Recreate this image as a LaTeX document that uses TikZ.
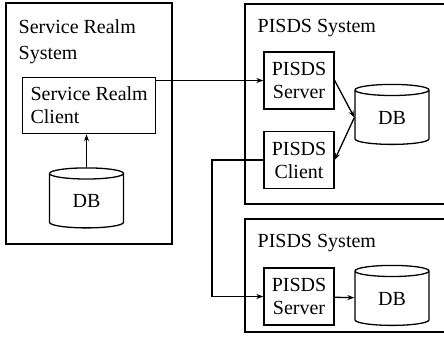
\documentclass[tikz,border=0pt]{standalone}
\usepackage{fontspec}
\setmainfont{Liberation Serif}
\usetikzlibrary{positioning,shapes.geometric,arrows.meta}

\begin{document}
\begin{tikzpicture}[x=1pt,y=-1pt,line width=1.3pt,
  font=\fontsize{20}{23}\selectfont,
  box/.style={draw,align=center,minimum width=70pt,minimum height=57pt,inner sep=2pt},
  dbase/.style={draw,cylinder,shape border rotate=90,aspect=0.4,minimum width=74pt,minimum height=60pt,inner sep=0pt},
  frame/.style={draw,line width=1.2pt},
  arr/.style={-{Stealth[length=7pt,width=5pt]}}]
 \useasboundingbox (0,0) rectangle (444,345);
 \clip (0,0) rectangle (444,345);

 %Frames
 \draw[frame] (6,3) rectangle (172,244);
 \draw[frame] (245,4) rectangle (460,204);
 \draw[frame] (245,219) rectangle (460,332);

 %Names
 \node (srsystem) [anchor=north west,align=left,inner sep=0pt] at (18,19) {Service Realm\\[3pt]System};
 \node (pisdsA) [anchor=north west,inner sep=0pt] at (257,19) {PISDS System};
 \node (pisdsB) [anchor=north west,inner sep=0pt] at (257,234) {PISDS System};

 %Boxes
 \node (srclient) [box,align=left,minimum width=133pt,minimum height=56pt,anchor=north west] at (22,77) {Service Realm\\Client};
 \node (srdb) [dbase] at (86.5,201) {DB};

 \node (server) [box] at (299,80.5) {PISDS\\Server};
 \node (client) [box] at (299,160) {PISDS\\Client};
 \node (serverdb) [dbase] at (392,117.5) {DB};

 \node (server2) [box] at (299,296.5) {PISDS\\Server};
 \node (server2db) [dbase] at (392,298.5) {DB};

 %Arrows
 \coordinate (bend) at (212,0);
 \draw[arr] (srdb.north) -- (srclient.south -| srdb.north);
 \draw[arr] (srclient.east |- server.west) -- (server.west);
 \draw[arr] (server.east) -- (serverdb.west);
 \draw[arr] (serverdb.west) -- (client.east);
 \draw[arr] (client.west) -- (client.west -| bend) |- (server2.west);
 \draw[arr] (server2) -- (server2db);

\end{tikzpicture}
\end{document}
